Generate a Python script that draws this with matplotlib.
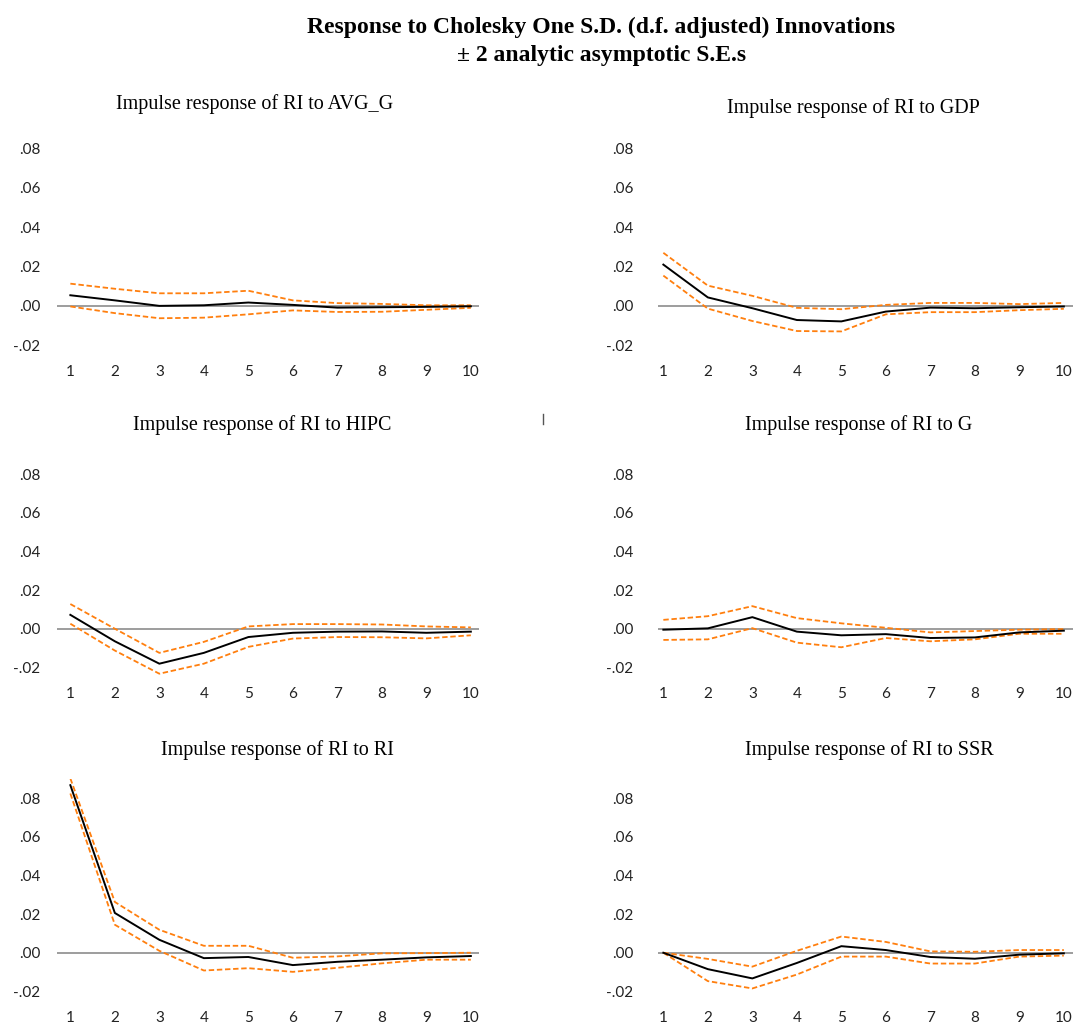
import matplotlib
matplotlib.use("Agg")
import matplotlib.pyplot as plt

# impulse response of RI, periods 1..10, with +/- 2 S.E. bands
periods = list(range(1, 11))

avg_g_resp = [0.0054, 0.0028, 0.0000, 0.0003, 0.0017, 0.0005, -0.0009, -0.0007, -0.0005, -0.0002]
avg_g_up = [0.0113, 0.0087, 0.0064, 0.0064, 0.0077, 0.0028, 0.0014, 0.0010, 0.0003, 0.0003]
avg_g_lo = [-0.0003, -0.0037, -0.0063, -0.0060, -0.0043, -0.0023, -0.0031, -0.0030, -0.0020, -0.0010]

gdp_resp = [0.0210, 0.0043, -0.0012, -0.0072, -0.0079, -0.0029, -0.0009, -0.0012, -0.0007, -0.0003]
gdp_up = [0.0270, 0.0103, 0.0051, -0.0010, -0.0017, 0.0005, 0.0015, 0.0015, 0.0009, 0.0015]
gdp_lo = [0.0154, -0.0014, -0.0077, -0.0128, -0.0130, -0.0043, -0.0032, -0.0032, -0.0022, -0.0015]

hipc_resp = [0.0072, -0.0065, -0.0181, -0.0125, -0.0043, -0.0021, -0.0015, -0.0014, -0.0021, -0.0015]
hipc_up = [0.0128, 0.0000, -0.0125, -0.0068, 0.0012, 0.0024, 0.0024, 0.0022, 0.0012, 0.0007]
hipc_lo = [0.0026, -0.0113, -0.0233, -0.0181, -0.0094, -0.0051, -0.0043, -0.0044, -0.0050, -0.0034]

g_resp = [-0.0005, 0.0002, 0.0060, -0.0015, -0.0034, -0.0028, -0.0048, -0.0045, -0.0019, -0.0010]
g_up = [0.0046, 0.0065, 0.0117, 0.0055, 0.0028, 0.0005, -0.0019, -0.0012, -0.0005, -0.0002]
g_lo = [-0.0058, -0.0055, 0.0003, -0.0072, -0.0096, -0.0048, -0.0065, -0.0055, -0.0026, -0.0026]

ri_resp = [0.0868, 0.0206, 0.0067, -0.0028, -0.0022, -0.0064, -0.0047, -0.0036, -0.0024, -0.0017]
ri_up = [0.0903, 0.0263, 0.0119, 0.0036, 0.0036, -0.0026, -0.0019, -0.0003, -0.0002, 0.0000]
ri_lo = [0.0825, 0.0145, 0.0010, -0.0092, -0.0080, -0.0099, -0.0078, -0.0055, -0.0036, -0.0036]

ssr_resp = [0.0000, -0.0085, -0.0133, -0.0053, 0.0034, 0.0014, -0.0022, -0.0031, -0.0010, -0.0003]
ssr_up = [0.0000, -0.0032, -0.0072, 0.0010, 0.0084, 0.0056, 0.0007, 0.0005, 0.0014, 0.0014]
ssr_lo = [0.0000, -0.0147, -0.0185, -0.0113, -0.0020, -0.0020, -0.0056, -0.0056, -0.0020, -0.0015]

shocks = ["AVG_G", "GDP", "HIPC", "G", "RI", "SSR"]
responses = [avg_g_resp, gdp_resp, hipc_resp, g_resp, ri_resp, ssr_resp]
upper = [avg_g_up, gdp_up, hipc_up, g_up, ri_up, ssr_up]
lower = [avg_g_lo, gdp_lo, hipc_lo, g_lo, ri_lo, ssr_lo]

y_ticks = [-0.02, 0.00, 0.02, 0.04, 0.06, 0.08]
y_tick_labels = ["-.02", ".00", ".02", ".04", ".06", ".08"]

W, H = 1073, 1025
fig = plt.figure(figsize=(W / 100, H / 100), dpi=100)

# panel boxes in pixels: (left, top, right, bottom)
boxes = [
    (57, 129, 479, 355), (650, 129, 1073, 355),
    (57, 455, 479, 677), (650, 455, 1073, 677),
    (57, 779, 479, 1001), (650, 779, 1073, 1001),
]
# title centres in pixels
title_pos = [(255, 104), (853, 108), (262, 425), (859, 425), (277, 750), (869, 750)]

orange = "#ff7f0e"
for i, shock in enumerate(shocks):
    l, t, r, b = boxes[i]
    ax = fig.add_axes([l / W, 1 - b / H, (r - l) / W, (b - t) / H])
    ax.set_xlim(0.7, 0.7 + (r - l) / 44.5)
    ax.set_ylim(-0.025, 0.09)
    left_col = i % 2 == 0
    ax.hlines(0, 0.7 if left_col else 0.88, 10.2 if left_col else 10.6,
              color="#8c8c8c", lw=1.2, zorder=1)
    ax.plot(periods, upper[i], color=orange, lw=1.3, ls=(0, (3, 1.5)), zorder=2)
    ax.plot(periods, lower[i], color=orange, lw=1.3, ls=(0, (3, 1.5)), zorder=2)
    ax.plot(periods, responses[i], color="black", lw=1.4, zorder=3)
    ax.set_xticks(periods)
    ax.set_xticklabels([str(p) for p in periods], fontfamily="Lato", fontsize=11, color="#222222")
    ax.set_yticks(y_ticks)
    ax.set_yticklabels(y_tick_labels, fontfamily="Lato", fontsize=11, color="#222222")
    ax.tick_params(axis="y", length=0, pad=12)
    ax.tick_params(axis="x", length=0, pad=7)
    for s in ax.spines.values():
        s.set_visible(False)
    ax.patch.set_alpha(0)
    tx, ty = title_pos[i]
    fig.text(tx / W, 1 - ty / H, f"Impulse response of RI to {shock}",
             ha="center", va="center", fontfamily="Liberation Serif", fontsize=14.5)

fig.text(601 / W, 1 - 27 / H, "Response to Cholesky One S.D. (d.f. adjusted) Innovations",
         ha="center", va="center", fontfamily="Liberation Serif", fontsize=17, fontweight="bold")
fig.text(602 / W, 1 - 55 / H, "\u00b1 2 analytic asymptotic S.E.s",
         ha="center", va="center", fontfamily="Liberation Serif", fontsize=17, fontweight="bold")

# stray separator mark between the middle panels
fig.add_artist(plt.Line2D([543 / W, 543 / W], [1 - 414 / H, 1 - 424 / H], color="#555555", lw=1))

fig.savefig("out.png", dpi=100)
